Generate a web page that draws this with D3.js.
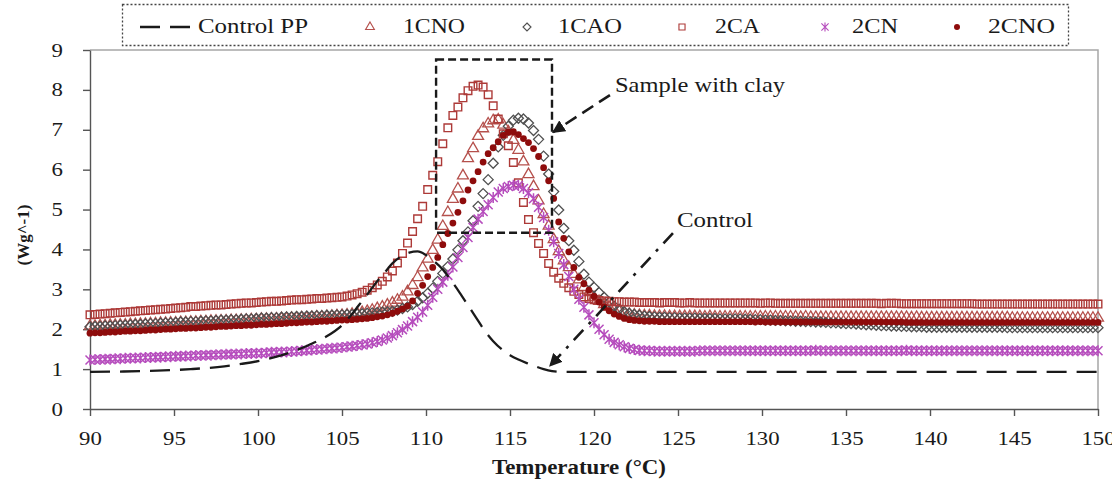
<!DOCTYPE html>
<html>
<head>
<meta charset="utf-8">
<script src="https://cdn.jsdelivr.net/npm/d3@7"></script>
<style>
  body { margin: 0; background: #fff; }
  svg text { font-family: "Liberation Serif", serif; fill: #1a1a1a; }
</style>
</head>
<body>
<svg id="chart" width="1112" height="488"></svg>
<script>
'use strict'
const SERIF = 'Liberation Serif';
// temperature grid of the DSC scans, 0.3 °C apart (90 .. 150)
const temps = d3.range(201).map(i => Math.round((90 + i * 0.3) * 10) / 10);

// heat flow (W/g), one value per temperature, rows of 3 °C
const s1CNO = [
  2.08,2.08,2.09,2.09,2.10,2.10,2.11,2.11,2.12,2.12,
  2.13,2.13,2.14,2.14,2.15,2.15,2.16,2.16,2.17,2.17,
  2.18,2.18,2.19,2.19,2.20,2.20,2.21,2.21,2.22,2.22,
  2.23,2.23,2.24,2.24,2.25,2.25,2.26,2.26,2.27,2.27,
  2.28,2.28,2.29,2.29,2.30,2.31,2.31,2.32,2.33,2.34,
  2.35,2.36,2.38,2.40,2.42,2.45,2.48,2.52,2.56,2.61,
  2.66,2.73,2.81,2.94,3.10,3.30,3.54,3.76,3.98,4.24,
  4.58,4.93,5.26,5.52,5.85,6.28,6.53,6.84,7.03,7.15,
  7.23,7.25,7.12,6.95,6.74,6.49,6.20,5.88,5.58,5.22,
  4.88,4.59,4.25,3.95,3.72,3.55,3.38,3.24,3.05,2.92,
  2.80,2.70,2.62,2.55,2.49,2.45,2.41,2.38,2.36,2.35,
  2.34,2.34,2.33,2.33,2.33,2.32,2.32,2.32,2.32,2.32,
  2.32,2.32,2.31,2.32,2.31,2.31,2.31,2.31,2.31,2.31,
  2.31,2.31,2.31,2.31,2.31,2.31,2.31,2.31,2.31,2.31,
  2.31,2.30,2.31,2.30,2.30,2.30,2.30,2.30,2.30,2.30,
  2.30,2.30,2.30,2.30,2.30,2.30,2.30,2.30,2.30,2.30,
  2.30,2.30,2.30,2.29,2.30,2.29,2.29,2.29,2.29,2.29,
  2.29,2.29,2.29,2.29,2.29,2.29,2.29,2.29,2.29,2.29,
  2.29,2.29,2.29,2.28,2.28,2.28,2.28,2.28,2.28,2.28,
  2.28,2.28,2.28,2.28,2.28,2.28,2.28,2.28,2.28,2.28,
  2.28
];
const s1CAO = [
  2.06,2.07,2.07,2.08,2.08,2.09,2.10,2.10,2.11,2.12,
  2.12,2.13,2.14,2.14,2.15,2.16,2.16,2.17,2.18,2.18,
  2.19,2.19,2.20,2.21,2.21,2.22,2.23,2.23,2.24,2.24,
  2.25,2.26,2.26,2.27,2.28,2.28,2.29,2.29,2.30,2.31,
  2.31,2.32,2.32,2.33,2.33,2.34,2.34,2.35,2.35,2.36,
  2.36,2.37,2.37,2.38,2.39,2.40,2.41,2.42,2.43,2.44,
  2.45,2.48,2.52,2.56,2.62,2.70,2.79,2.90,3.03,3.20,
  3.40,3.57,3.76,3.99,4.22,4.44,4.72,5.08,5.40,5.75,
  6.16,6.57,6.86,7.09,7.24,7.29,7.27,7.17,6.98,6.76,
  6.34,5.89,5.45,4.99,4.53,4.22,3.98,3.70,3.38,3.18,
  3.05,2.92,2.80,2.68,2.58,2.50,2.44,2.40,2.37,2.35,
  2.33,2.32,2.31,2.30,2.30,2.29,2.29,2.28,2.28,2.28,
  2.28,2.27,2.27,2.27,2.27,2.26,2.26,2.26,2.26,2.26,
  2.25,2.25,2.24,2.24,2.23,2.23,2.22,2.22,2.21,2.21,
  2.20,2.20,2.19,2.19,2.18,2.18,2.17,2.16,2.16,2.15,
  2.14,2.14,2.13,2.12,2.11,2.11,2.10,2.09,2.09,2.08,
  2.08,2.07,2.07,2.06,2.06,2.06,2.05,2.05,2.05,2.05,
  2.05,2.05,2.05,2.05,2.05,2.05,2.05,2.05,2.05,2.05,
  2.05,2.05,2.04,2.04,2.04,2.04,2.04,2.04,2.04,2.04,
  2.04,2.04,2.04,2.04,2.04,2.04,2.04,2.04,2.04,2.04,
  2.04
];
const s2CA = [
  2.36,2.37,2.38,2.39,2.40,2.41,2.42,2.43,2.44,2.45,
  2.46,2.47,2.48,2.49,2.50,2.51,2.52,2.53,2.54,2.55,
  2.57,2.57,2.58,2.59,2.60,2.61,2.61,2.62,2.63,2.64,
  2.65,2.66,2.66,2.67,2.68,2.69,2.70,2.70,2.71,2.72,
  2.73,2.74,2.74,2.75,2.76,2.77,2.77,2.78,2.79,2.80,
  2.81,2.83,2.86,2.89,2.93,2.98,3.04,3.11,3.20,3.31,
  3.46,3.66,3.90,4.16,4.45,4.77,5.08,5.50,5.86,6.20,
  6.65,7.05,7.36,7.57,7.80,7.98,8.09,8.12,8.07,7.88,
  7.60,7.27,6.90,6.60,6.18,5.67,5.18,4.75,4.42,4.15,
  3.90,3.65,3.43,3.28,3.15,3.04,2.95,2.87,2.81,2.77,
  2.74,2.72,2.71,2.70,2.69,2.69,2.68,2.68,2.68,2.67,
  2.67,2.67,2.67,2.66,2.67,2.67,2.67,2.66,2.66,2.67,
  2.66,2.66,2.66,2.66,2.66,2.66,2.66,2.66,2.66,2.66,
  2.66,2.66,2.66,2.65,2.66,2.66,2.65,2.65,2.65,2.65,
  2.65,2.65,2.65,2.65,2.65,2.65,2.65,2.65,2.65,2.65,
  2.65,2.65,2.65,2.65,2.65,2.65,2.65,2.64,2.65,2.65,
  2.65,2.64,2.64,2.64,2.64,2.64,2.64,2.64,2.64,2.64,
  2.64,2.64,2.64,2.64,2.64,2.64,2.63,2.63,2.63,2.63,
  2.63,2.63,2.63,2.63,2.63,2.63,2.63,2.63,2.63,2.63,
  2.63,2.63,2.63,2.63,2.63,2.63,2.63,2.63,2.63,2.63,
  2.63
];
const s2CN = [
  1.23,1.24,1.24,1.25,1.25,1.26,1.26,1.27,1.27,1.28,
  1.28,1.29,1.29,1.30,1.30,1.31,1.31,1.32,1.32,1.33,
  1.33,1.34,1.34,1.35,1.35,1.36,1.36,1.37,1.37,1.38,
  1.38,1.39,1.39,1.40,1.40,1.41,1.42,1.42,1.43,1.43,
  1.44,1.45,1.46,1.47,1.48,1.49,1.50,1.51,1.52,1.53,
  1.54,1.56,1.57,1.59,1.61,1.63,1.66,1.69,1.73,1.78,
  1.84,1.91,1.99,2.08,2.19,2.30,2.43,2.60,2.80,3.00,
  3.18,3.35,3.56,3.80,4.05,4.30,4.55,4.76,4.95,5.12,
  5.30,5.44,5.53,5.58,5.61,5.60,5.53,5.42,5.27,5.06,
  4.80,4.48,4.19,3.90,3.62,3.32,3.00,2.75,2.55,2.36,
  2.16,2.00,1.86,1.75,1.67,1.61,1.56,1.52,1.49,1.47,
  1.46,1.46,1.45,1.45,1.45,1.45,1.45,1.45,1.45,1.45,
  1.45,1.46,1.46,1.46,1.46,1.46,1.46,1.46,1.46,1.46,
  1.46,1.46,1.46,1.46,1.46,1.46,1.46,1.46,1.46,1.46,
  1.46,1.46,1.46,1.46,1.47,1.46,1.46,1.46,1.46,1.46,
  1.46,1.46,1.46,1.46,1.46,1.46,1.46,1.46,1.46,1.46,
  1.46,1.46,1.47,1.46,1.46,1.46,1.46,1.46,1.46,1.46,
  1.46,1.46,1.46,1.46,1.46,1.46,1.46,1.46,1.46,1.46,
  1.46,1.46,1.46,1.46,1.46,1.46,1.46,1.46,1.46,1.46,
  1.46,1.46,1.46,1.46,1.46,1.46,1.46,1.46,1.46,1.46,
  1.46
];
const s2CNO = [
  1.90,1.91,1.91,1.92,1.93,1.93,1.94,1.95,1.95,1.96,
  1.96,1.97,1.98,1.98,1.99,2.00,2.00,2.01,2.02,2.02,
  2.03,2.03,2.04,2.05,2.05,2.06,2.07,2.07,2.08,2.09,
  2.09,2.10,2.10,2.11,2.12,2.12,2.13,2.14,2.14,2.15,
  2.16,2.16,2.17,2.18,2.18,2.19,2.20,2.20,2.21,2.22,
  2.23,2.23,2.24,2.25,2.26,2.27,2.29,2.31,2.33,2.36,
  2.40,2.45,2.51,2.58,2.71,2.90,3.10,3.32,3.55,3.80,
  4.12,4.40,4.66,4.93,5.22,5.49,5.72,5.95,6.19,6.40,
  6.55,6.70,6.86,6.94,6.95,6.88,6.78,6.68,6.53,6.33,
  6.05,5.72,5.28,4.69,4.28,3.94,3.55,3.30,3.14,2.98,
  2.82,2.68,2.56,2.46,2.38,2.32,2.27,2.24,2.22,2.21,
  2.20,2.20,2.20,2.19,2.19,2.19,2.19,2.19,2.19,2.19,
  2.19,2.19,2.19,2.19,2.19,2.19,2.19,2.19,2.19,2.19,
  2.19,2.19,2.18,2.19,2.18,2.18,2.18,2.18,2.18,2.18,
  2.18,2.18,2.18,2.18,2.18,2.18,2.18,2.18,2.18,2.18,
  2.18,2.18,2.18,2.18,2.18,2.18,2.18,2.18,2.18,2.18,
  2.18,2.18,2.17,2.17,2.17,2.17,2.17,2.17,2.17,2.17,
  2.17,2.17,2.17,2.17,2.17,2.17,2.17,2.17,2.17,2.17,
  2.17,2.17,2.17,2.17,2.17,2.17,2.17,2.17,2.17,2.17,
  2.17,2.17,2.17,2.17,2.17,2.17,2.17,2.17,2.17,2.17,
  2.17
];

// control PP is a plain dashed line with its own readings
const ctrlTemps = [90, 92, 94, 96, 98, 99, 100, 101, 102, 103, 104, 105, 105.5, 106, 106.5,
  107, 107.5, 108, 108.5, 109, 109.5, 110, 110.5, 111, 111.5, 112, 112.5, 113, 113.5,
  114, 114.5, 115, 115.5, 116, 116.5, 117, 117.5, 118, 120, 125, 130, 135, 140, 145, 150];
const ctrlPP = [0.93, 0.94, 0.96, 1.00, 1.07, 1.13, 1.20, 1.30, 1.43, 1.60, 1.80, 2.10, 2.33,
  2.60, 2.87, 3.15, 3.40, 3.65, 3.82, 3.92, 3.95, 3.86, 3.70, 3.50, 3.22, 2.92, 2.60,
  2.28, 1.96, 1.70, 1.50, 1.35, 1.24, 1.15, 1.07, 1.00, 0.95, 0.93, 0.93, 0.93, 0.93,
  0.93, 0.93, 0.93, 0.93];

const xTicks = [90, 95, 100, 105, 110, 115, 120, 125, 130, 135, 140, 145, 150];
const yTicks = [0, 1, 2, 3, 4, 5, 6, 7, 8, 9];
const legendNames = ['Control PP', '1CNO', '1CAO', '2CA', '2CN', '2CNO'];

const svg = d3.select('#chart');
svg.append('rect').attr('width', 1112).attr('height', 488).attr('fill', '#fff');

const x = d3.scaleLinear().domain([90, 150]).range([90, 1098]);
const y = d3.scaleLinear().domain([0, 9]).range([409, 50]);

// the source picture is a little wider than normal type, so stretch text
function stretch(sel, k) {
  sel.each(function() {
    const w = this.getComputedTextLength();
    d3.select(this).attr('textLength', w * k).attr('lengthAdjust', 'spacingAndGlyphs');
  });
}

// marker shapes
const sym = {
  tri: d3.symbol().type(d3.symbolTriangle).size(52)(),
  sq: 'M-3.8,-3.8H3.8V3.8H-3.8Z',
  dia: 'M0,-5L5,0L0,5L-5,0Z',
  ast: 'M-4.5,-4.5L4.5,4.5M-4.5,4.5L4.5,-4.5M0,-5.5V5.5',
};

const seriesList = [
  { name: '1CNO', vals: s1CNO, shape: sym.tri, stroke: '#b5504c', fill: 'none', sw: 1.3 },
  { name: '1CAO', vals: s1CAO, shape: sym.dia, stroke: '#505050', fill: 'none', sw: 1.3 },
  { name: '2CA', vals: s2CA, shape: sym.sq, stroke: '#ad3a38', fill: 'none', sw: 1.4 },
  { name: '2CN', vals: s2CN, shape: sym.ast, stroke: '#b64dbd', fill: 'none', sw: 1.5 },
  { name: '2CNO', vals: s2CNO, shape: null, stroke: 'none', fill: '#8e0c0c', sw: 0 },
];

// plot frame (top / right)
svg.append('path')
  .attr('d', `M${x(90)},${y(9)}H${x(150)}V${y(0)}`)
  .attr('fill', 'none').attr('stroke', '#a6a6a6').attr('stroke-width', 1.5);

// axes
const gx = svg.append('g').attr('transform', `translate(0,${y(0)})`)
  .call(d3.axisBottom(x).tickValues(xTicks).tickSize(7).tickSizeOuter(0).tickPadding(16));
const gy = svg.append('g').attr('transform', `translate(${x(90)},0)`)
  .call(d3.axisLeft(y).tickValues(yTicks).tickSize(7).tickSizeOuter(0).tickPadding(20));
[gx, gy].forEach(g => {
  g.attr('font-family', SERIF);
  g.select('.domain').attr('stroke', '#555').attr('stroke-width', 1.4);
  g.selectAll('.tick line').attr('stroke', '#555').attr('stroke-width', 1.4);
  g.selectAll('.tick text').attr('font-size', 19).attr('fill', '#222')
    .attr('font-family', SERIF);
});
stretch(gx.selectAll('.tick text'), 1.2);
stretch(gy.selectAll('.tick text'), 1.2);

// series markers
seriesList.forEach(s => {
  const pts = temps.map((t, i) => [t, s.vals[i]]);
  const g = svg.append('g');
  if (s.shape) {
    g.selectAll('path').data(pts).enter().append('path')
      .attr('d', s.shape)
      .attr('transform', d => `translate(${x(d[0])},${y(d[1])})`)
      .attr('fill', s.fill).attr('stroke', s.stroke).attr('stroke-width', s.sw);
  } else {
    g.selectAll('circle').data(pts).enter().append('circle')
      .attr('cx', d => x(d[0])).attr('cy', d => y(d[1])).attr('r', 3.4)
      .attr('fill', s.fill);
  }
});

// control line
const line = d3.line().x(d => x(d[0])).y(d => y(d[1])).curve(d3.curveMonotoneX);
svg.append('path')
  .datum(ctrlTemps.map((t, i) => [t, ctrlPP[i]]))
  .attr('d', line)
  .attr('fill', 'none').attr('stroke', '#1a1a1a').attr('stroke-width', 2.3)
  .attr('stroke-dasharray', '20 10');

// annotations
const defs = svg.append('defs');
defs.append('marker').attr('id', 'arr').attr('viewBox', '0 0 10 10')
  .attr('refX', 9).attr('refY', 5).attr('markerWidth', 5).attr('markerHeight', 5)
  .attr('orient', 'auto')
  .append('path').attr('d', 'M0,0L10,5L0,10Z').attr('fill', '#1a1a1a');

svg.append('rect')
  .attr('x', x(110.6)).attr('y', y(8.76))
  .attr('width', x(117.5) - x(110.6)).attr('height', y(4.42) - y(8.76))
  .attr('fill', 'none').attr('stroke', '#1a1a1a').attr('stroke-width', 2.4)
  .attr('stroke-dasharray', '8 4');

svg.append('line')
  .attr('x1', x(120.95)).attr('y1', y(7.87)).attr('x2', x(117.56)).attr('y2', y(6.94))
  .attr('stroke', '#1a1a1a').attr('stroke-width', 2.6).attr('stroke-dasharray', '13 7')
  .attr('marker-end', 'url(#arr)');
svg.append('line')
  .attr('x1', x(124.7)).attr('y1', y(4.41)).attr('x2', x(117.38)).attr('y2', y(1.08))
  .attr('stroke', '#1a1a1a').attr('stroke-width', 2.6).attr('stroke-dasharray', '14 8 3 8')
  .attr('marker-end', 'url(#arr)');

svg.append('text').attr('x', x(121.25)).attr('y', y(7.94)).attr('font-family', SERIF)
  .attr('font-size', 21).attr('textLength', 170).attr('lengthAdjust', 'spacingAndGlyphs')
  .text('Sample with clay');
svg.append('text').attr('x', x(124.94)).attr('y', y(4.56)).attr('font-family', SERIF)
  .attr('font-size', 21).attr('textLength', 76).attr('lengthAdjust', 'spacingAndGlyphs')
  .text('Control');

// axis titles
svg.append('text').attr('x', 492).attr('y', 474)
  .attr('font-family', SERIF).attr('font-size', 20).attr('font-weight', 'bold')
  .attr('fill', '#222').attr('textLength', 174).attr('lengthAdjust', 'spacingAndGlyphs')
  .text('Temperature (°C)');
svg.append('text').attr('transform', 'translate(29,235) rotate(-90)')
  .attr('text-anchor', 'middle').attr('font-family', SERIF).attr('font-size', 17)
  .attr('font-weight', 'bold').attr('fill', '#222').text('(Wg^-1)');

// legend
const lg = svg.append('g');
lg.append('rect').attr('x', 122.5).attr('y', 4.5).attr('width', 946).attr('height', 41)
  .attr('fill', 'none').attr('stroke', '#444').attr('stroke-width', 1.3)
  .attr('stroke-dasharray', '2 2');
const legendPos = [
  { mx: 166, tx: 198, w: 110 },
  { mx: 370, tx: 403, w: 62 },
  { mx: 527, tx: 558, w: 64 },
  { mx: 682, tx: 715, w: 45 },
  { mx: 825, tx: 852, w: 46 },
  { mx: 957, tx: 988, w: 67 },
];
legendNames.forEach((name, i) => {
  const p = legendPos[i];
  if (i === 0) {
    lg.append('line').attr('x1', 140).attr('x2', 193).attr('y1', 27).attr('y2', 27)
      .attr('stroke', '#1a1a1a').attr('stroke-width', 2.5).attr('stroke-dasharray', '20 10');
  } else {
    const s = seriesList[i - 1];
    if (s.shape) {
      lg.append('path').attr('d', s.shape).attr('transform', `translate(${p.mx},27) scale(0.8)`)
        .attr('fill', 'none').attr('stroke', s.stroke).attr('stroke-width', 1.4);
    } else {
      lg.append('circle').attr('cx', p.mx).attr('cy', 27).attr('r', 3).attr('fill', s.fill);
    }
  }
  lg.append('text').attr('x', p.tx).attr('y', 33).attr('font-family', SERIF).attr('font-size', 20)
    .attr('textLength', p.w).attr('lengthAdjust', 'spacingAndGlyphs').text(name);
});
</script>
</body>
</html>
